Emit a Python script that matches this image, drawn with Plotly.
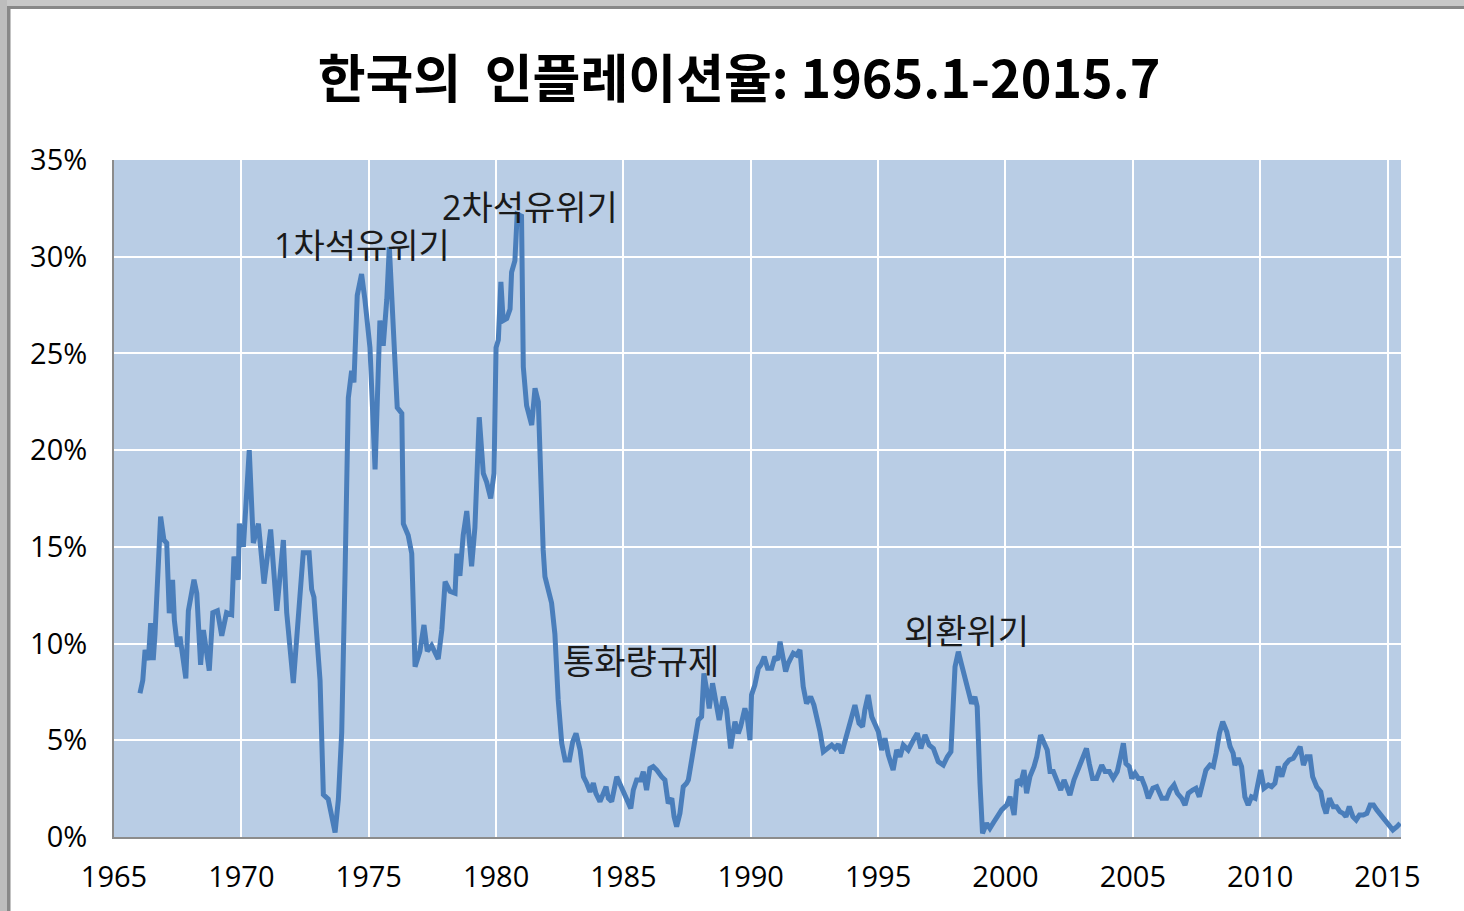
import plotly.graph_objects as go

# ---- data (decimal year, inflation %) ----
years = [
    1966.02, 1966.13, 1966.22, 1966.35, 1966.44, 1966.54, 1966.61, 1966.83, 1966.96, 1967.07,
    1967.17, 1967.30, 1967.37, 1967.49, 1967.59, 1967.82, 1967.92, 1968.14, 1968.25, 1968.40,
    1968.51, 1968.74, 1968.88, 1969.06, 1969.23, 1969.42, 1969.62, 1969.71, 1969.88, 1969.92,
    1970.08, 1970.31, 1970.47, 1970.67, 1970.89, 1971.15, 1971.39, 1971.65, 1971.78, 1972.04,
    1972.43, 1972.66, 1972.76, 1972.85, 1973.09, 1973.22, 1973.41, 1973.68, 1973.81, 1973.94,
    1974.07, 1974.20, 1974.33, 1974.42, 1974.55, 1974.72, 1974.85, 1975.05, 1975.25, 1975.44,
    1975.57, 1975.71, 1975.81, 1975.97, 1976.12, 1976.30, 1976.36, 1976.55, 1976.69, 1976.82,
    1977.01, 1977.17, 1977.30, 1977.47, 1977.73, 1977.87, 1978.00, 1978.19, 1978.39, 1978.46,
    1978.58, 1978.71, 1978.85, 1979.04, 1979.17, 1979.34, 1979.50, 1979.63, 1979.79, 1979.92,
    1980.00, 1980.09, 1980.19, 1980.28, 1980.42, 1980.55, 1980.61, 1980.74, 1980.83, 1981.00,
    1981.07, 1981.20, 1981.40, 1981.53, 1981.66, 1981.85, 1981.92, 1982.18, 1982.31, 1982.44,
    1982.58, 1982.71, 1982.88, 1983.01, 1983.14, 1983.30, 1983.43, 1983.56, 1983.69, 1983.82,
    1983.92, 1984.08, 1984.21, 1984.32, 1984.41, 1984.54, 1984.74, 1984.93, 1985.13, 1985.29,
    1985.39, 1985.52, 1985.68, 1985.78, 1985.91, 1986.04, 1986.17, 1986.31, 1986.50, 1986.63,
    1986.76, 1986.90, 1986.99, 1987.09, 1987.22, 1987.35, 1987.48, 1987.55, 1987.68, 1987.81,
    1987.94, 1988.07, 1988.16, 1988.27, 1988.37, 1988.50, 1988.63, 1988.76, 1988.92, 1989.05,
    1989.21, 1989.38, 1989.51, 1989.60, 1989.77, 1989.86, 1989.97, 1990.03, 1990.16, 1990.30,
    1990.40, 1990.53, 1990.66, 1990.82, 1990.95, 1991.06, 1991.15, 1991.25, 1991.37, 1991.47,
    1991.67, 1991.80, 1991.93, 1992.00, 1992.06, 1992.19, 1992.35, 1992.48, 1992.59, 1992.72,
    1992.85, 1993.04, 1993.18, 1993.31, 1993.44, 1993.57, 1993.76, 1993.92, 1994.09, 1994.25,
    1994.39, 1994.48, 1994.61, 1994.75, 1994.88, 1995.01, 1995.14, 1995.27, 1995.40, 1995.59,
    1995.73, 1995.86, 1995.99, 1996.18, 1996.38, 1996.54, 1996.68, 1996.84, 1997.01, 1997.17,
    1997.36, 1997.56, 1997.72, 1997.86, 1998.02, 1998.15, 1998.28, 1998.41, 1998.54, 1998.67,
    1998.80, 1998.89, 1999.00, 1999.10, 1999.26, 1999.39, 1999.55, 1999.68, 1999.85, 2000.05,
    2000.18, 2000.34, 2000.46, 2000.60, 2000.73, 2000.83, 2000.96, 2001.12, 2001.23, 2001.38,
    2001.51, 2001.64, 2001.75, 2001.88, 2002.01, 2002.17, 2002.30, 2002.40, 2002.53, 2002.69,
    2002.86, 2003.03, 2003.18, 2003.29, 2003.42, 2003.58, 2003.78, 2003.91, 2004.08, 2004.23,
    2004.39, 2004.52, 2004.63, 2004.73, 2004.86, 2004.96, 2005.09, 2005.22, 2005.35, 2005.48,
    2005.61, 2005.79, 2005.94, 2006.14, 2006.33, 2006.46, 2006.62, 2006.75, 2006.92, 2007.05,
    2007.18, 2007.35, 2007.48, 2007.61, 2007.74, 2007.87, 2008.03, 2008.16, 2008.27, 2008.40,
    2008.53, 2008.69, 2008.82, 2008.94, 2009.01, 2009.14, 2009.27, 2009.40, 2009.53, 2009.66,
    2009.80, 2009.93, 2010.02, 2010.15, 2010.32, 2010.45, 2010.58, 2010.71, 2010.85, 2010.98,
    2011.14, 2011.30, 2011.46, 2011.57, 2011.70, 2011.83, 2011.96, 2012.06, 2012.22, 2012.38,
    2012.48, 2012.59, 2012.72, 2012.87, 2013.00, 2013.13, 2013.26, 2013.37, 2013.50, 2013.64,
    2013.77, 2013.90, 2014.05, 2014.19, 2014.32, 2014.45, 2014.58, 2014.78, 2014.97, 2015.10,
    2015.21, 2015.37, 2015.50,
]

inflation = [
    7.43, 8.10, 9.67, 9.15, 11.06, 9.15, 10.50, 16.56, 15.35, 15.20,
    11.57, 13.30, 11.20, 9.84, 10.36, 8.20, 11.70, 13.30, 12.60, 8.90,
    10.70, 8.60, 11.60, 11.70, 10.40, 11.60, 11.50, 14.50, 13.30, 16.20,
    15.00, 20.00, 15.20, 16.20, 13.10, 15.90, 11.70, 15.35, 11.60, 7.96,
    14.70, 14.70, 12.80, 12.40, 8.10, 2.19, 1.96, 0.23, 1.96, 5.40,
    13.50, 22.70, 24.10, 23.50, 28.00, 29.10, 27.80, 25.30, 19.00, 26.70,
    25.40, 27.80, 30.50, 25.70, 22.20, 21.90, 16.20, 15.60, 14.65, 8.80,
    9.60, 10.96, 9.60, 9.90, 9.20, 10.70, 13.20, 12.70, 12.60, 14.65,
    13.50, 15.60, 16.85, 14.00, 16.00, 21.70, 18.80, 18.35, 17.50, 18.80,
    25.30, 25.70, 28.70, 26.70, 26.80, 27.30, 29.20, 29.80, 32.20, 32.10,
    24.30, 22.30, 21.30, 23.20, 22.50, 14.84, 13.46, 12.10, 10.50, 7.10,
    4.84, 3.98, 3.98, 4.93, 5.36, 4.50, 3.12, 2.78, 2.34, 2.78,
    2.26, 1.83, 2.17, 2.60, 2.00, 1.83, 3.12, 2.60, 2.00, 1.48,
    2.43, 2.95, 2.95, 3.38, 2.43, 3.55, 3.64, 3.46, 3.12, 2.95,
    1.74, 2.00, 1.05, 0.53, 1.22, 2.60, 2.78, 2.95, 3.98, 5.00,
    6.05, 6.22, 8.46, 7.60, 6.65, 7.95, 6.90, 6.05, 7.25, 6.60,
    4.58, 5.96, 5.36, 5.70, 6.65, 6.22, 5.00, 7.34, 7.86, 8.72,
    8.90, 9.32, 8.72, 8.72, 9.32, 9.15, 10.10, 9.50, 8.55, 8.98,
    9.50, 9.40, 9.67, 8.63, 7.77, 6.90, 7.25, 6.82, 6.22, 5.44,
    4.41, 4.58, 4.75, 4.58, 4.79, 4.33, 5.19, 5.96, 6.82, 5.88,
    5.70, 6.57, 7.34, 6.22, 5.88, 5.44, 4.50, 5.10, 4.24, 3.46,
    4.50, 4.15, 4.75, 4.50, 5.00, 5.36, 4.58, 5.27, 4.75, 4.58,
    3.90, 3.72, 4.15, 4.41, 8.80, 9.58, 8.90, 8.20, 7.43, 6.90,
    7.25, 6.74, 2.78, 0.19, 0.71, 0.45, 0.79, 1.05, 1.40, 1.65,
    2.08, 1.14, 2.95, 2.78, 3.46, 2.26, 3.12, 3.64, 4.15, 5.27,
    4.93, 4.50, 3.38, 3.38, 2.95, 2.43, 2.95, 2.60, 2.17, 2.95,
    3.46, 3.98, 4.58, 3.80, 3.03, 3.03, 3.72, 3.38, 3.38, 3.03,
    3.38, 4.15, 4.84, 3.80, 3.64, 3.03, 3.29, 3.03, 3.03, 2.60,
    2.00, 2.52, 2.60, 2.00, 2.00, 2.43, 2.69, 2.26, 2.00, 1.65,
    2.26, 2.43, 2.52, 2.08, 2.86, 3.46, 3.72, 3.64, 4.33, 5.36,
    5.96, 5.44, 4.67, 4.33, 3.72, 4.07, 3.64, 2.08, 1.65, 2.08,
    2.00, 2.78, 3.46, 2.52, 2.69, 2.60, 2.78, 3.64, 3.12, 3.72,
    3.98, 4.07, 4.41, 4.67, 3.72, 4.15, 4.15, 3.12, 2.60, 2.34,
    1.65, 1.22, 2.00, 1.57, 1.57, 1.31, 1.22, 1.05, 1.57, 1.05,
    0.88, 1.14, 1.14, 1.22, 1.65, 1.65, 1.40, 1.05, 0.79, 0.53,
    0.36, 0.53, 0.71,
]

x_ticks = [1965, 1970, 1975, 1980, 1985, 1990, 1995, 2000, 2005, 2010, 2015]
x_tick_labels = ["1965", "1970", "1975", "1980", "1985", "1990", "1995", "2000", "2005", "2010", "2015"]
y_ticks = [0, 5, 10, 15, 20, 25, 30, 35]
y_tick_labels = ["0%", "5%", "10%", "15%", "20%", "25%", "30%", "35%"]

event_labels = ["1차석유위기", "2차석유위기", "통화량규제", "외환위기"]
event_x = [1974.75, 1981.33, 1985.69, 1998.49]
event_y = [30.6, 32.55, 9.1, 10.65]

title_text = "한국의\u00a0\u00a0인플레이션율: 1965.1-2015.7"

# ---- figure ----
W, H = 1464, 911
ML, MR, MT, MB = 114, 63, 160, 74
PW, PH = W - ML - MR, H - MT - MB

fig = go.Figure()
fig.add_trace(go.Scatter(
    x=years, y=inflation, mode="lines",
    line=dict(color="#4A7EBB", width=5),
    hoverinfo="skip", showlegend=False,
))

for lbl, ex, ey in zip(event_labels, event_x, event_y):
    fig.add_annotation(
        x=ex, y=ey, xref="x", yref="y", text=lbl, showarrow=False,
        font=dict(family="Open Sans, Noto Sans CJK KR, sans-serif", size=34, color="#1a1a1a"),
        xanchor="center", yanchor="middle",
    )

def px_x(p):
    return (p - ML) / PW

def px_y(p):
    return (H - MB - p) / PH

# window frame (grey bars at top and left)
shapes = [
    dict(type="rect", xref="paper", yref="paper", x0=px_x(0), x1=px_x(W), y0=px_y(6), y1=px_y(0),
         fillcolor="#C8C8C8", line=dict(width=0), layer="above"),
    dict(type="rect", xref="paper", yref="paper", x0=px_x(0), x1=px_x(W), y0=px_y(9), y1=px_y(6),
         fillcolor="#888888", line=dict(width=0), layer="above"),
    dict(type="rect", xref="paper", yref="paper", x0=px_x(0), x1=px_x(7), y0=px_y(H), y1=px_y(0),
         fillcolor="#BDBDBD", line=dict(width=0), layer="above"),
    dict(type="rect", xref="paper", yref="paper", x0=px_x(7), x1=px_x(10.5), y0=px_y(H), y1=px_y(7),
         fillcolor="#888888", line=dict(width=0), layer="above"),
]

fig.update_layout(
    width=W, height=H,
    margin=dict(l=ML, r=MR, t=MT, b=MB, pad=0),
    paper_bgcolor="white",
    plot_bgcolor="#B9CDE5",
    shapes=shapes,
    title=dict(
        text=title_text, x=739 / W, xref="container", xanchor="center",
        y=1 - 80 / H, yref="container", yanchor="middle",
        font=dict(family="Noto Sans CJK KR, sans-serif", size=52, color="black", weight="bold"),
    ),
    xaxis=dict(
        range=[1965, 2015.53], tickmode="array", tickvals=x_ticks, ticktext=x_tick_labels,
        showgrid=True, gridcolor="white", gridwidth=2,
        showline=True, linecolor="#8C8C8C", linewidth=2,
        zeroline=False, ticks="", ticklabelstandoff=13,
        tickfont=dict(family="Open Sans, sans-serif", size=29, color="black"),
    ),
    yaxis=dict(
        range=[0, 35], tickmode="array", tickvals=y_ticks, ticktext=y_tick_labels,
        showgrid=True, gridcolor="white", gridwidth=2,
        showline=True, linecolor="#8C8C8C", linewidth=2,
        zeroline=False, ticks="", ticklabelstandoff=19,
        tickfont=dict(family="Open Sans, sans-serif", size=29, color="black"),
    ),
)

fig.write_html(
    "out.html",
    config={"displayModeBar": False},
    post_script="document.body.style.margin='0';document.body.style.padding='0';",
)
